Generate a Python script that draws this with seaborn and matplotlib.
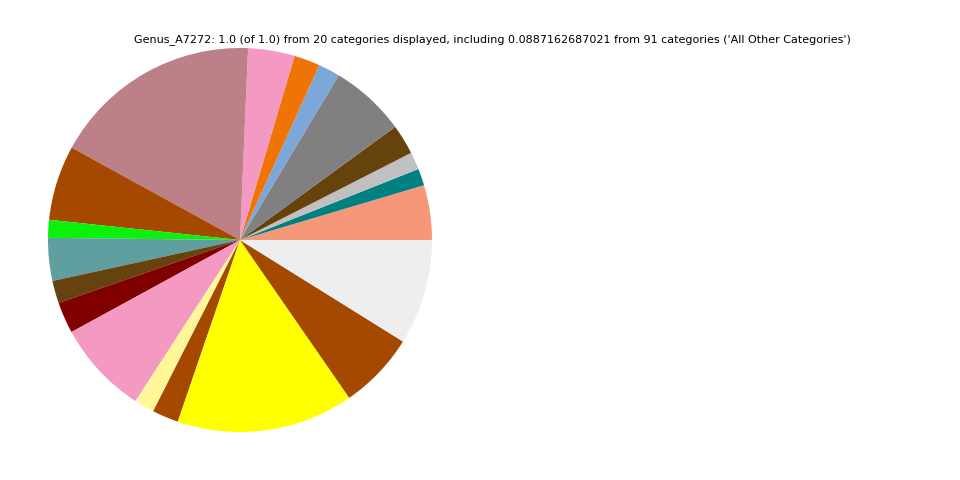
import matplotlib
matplotlib.use("Agg")
import matplotlib.pyplot as plt
import seaborn as sns

sns.set_style("white")

# slice shares (fractions of 1.0), counterclockwise from 3 o'clock
categories = ["Cat_01", "Cat_02", "Cat_03", "Cat_04", "Cat_05", "Cat_06", "Cat_07",
              "Cat_08", "Cat_09", "Cat_10", "Cat_11", "Cat_12", "Cat_13", "Cat_14",
              "Cat_15", "Cat_16", "Cat_17", "Cat_18", "Cat_19", "All Other Categories"]
shares = [0.0461, 0.0142, 0.0147, 0.0253, 0.0639, 0.0181, 0.0219, 0.0392, 0.1769,
          0.0631, 0.0150, 0.0361, 0.0189, 0.0264, 0.0789, 0.0169, 0.0222, 0.1489,
          0.0650, 0.0887162687021]
colors = ["#F7977A", "#008080", "#C0C0C0", "#66420C", "#808080", "#7BA7D9", "#F07305",
          "#F49AC2", "#BC8089", "#A54800", "#0AF20A", "#5F9F9F", "#66420C", "#800000",
          "#F49AC2", "#FFF79A", "#A54800", "#FFFF00", "#A54800", "#EEEEEE"]

title = ("Genus_A7272: 1.0 (of 1.0) from 20 categories displayed, including "
         "0.0887162687021 from 91 categories ('All Other Categories')")

fig = plt.figure(figsize=(9.6, 4.8), dpi=100)
ax = fig.add_axes([0.05, 0.1, 0.4, 0.8])
ax.pie(shares, colors=colors, startangle=0, counterclock=True,
       wedgeprops={"linewidth": 0})
ax.set_xlim(-1.0, 1.0)
ax.set_ylim(-1.0, 1.0)
ax.set_aspect("equal")
ax.axis("off")
fig.text(0.5125, 0.917, title, ha="center", va="center", fontsize=8, color="black")

plt.savefig("out.png", dpi=100)
